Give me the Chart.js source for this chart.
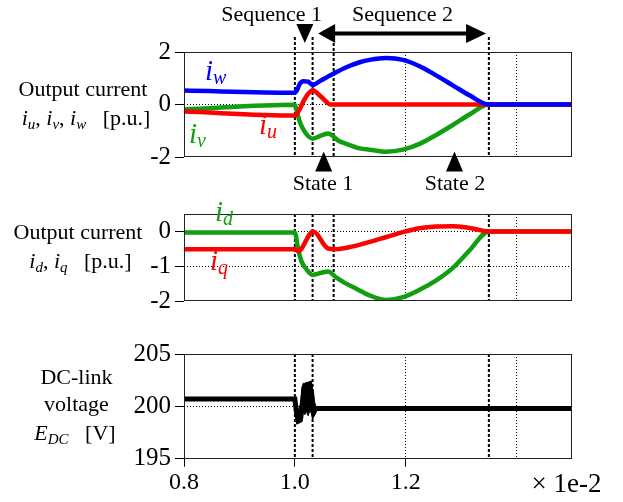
<!DOCTYPE html>
<html>
<head>
<meta charset="utf-8">
<script src="https://cdn.jsdelivr.net/npm/chart.js@4.4.0/dist/chart.umd.min.js"></script>
<style>
  html, body { margin: 0; padding: 0; background: #fff; }
  #wrap { position: relative; width: 623px; height: 502px; overflow: hidden; }
  canvas { position: absolute; left: 0; }
</style>
</head>
<body>
<div id="wrap">
  <canvas id="c1" width="623" height="200" style="top:0px"></canvas>
  <canvas id="c2" width="623" height="125" style="top:195px"></canvas>
  <canvas id="c3" width="623" height="172" style="top:330px"></canvas>
</div>
<script>
const SERIF = '"Liberation Serif", "Times New Roman", serif';

/* x axis: time [x 1e-2 s] */
const xMin = 0.8;
const xMax = 1.5;
const xTicks = [0.8, 1.0, 1.2, 1.4];
const xTickLabels = ['0.8', '1.0', '1.2', ''];
const xDotted = [1.2, 1.4];
const events12 = [1.0, 1.032, 1.07, 1.35];
const events3 = [1.0, 1.032, 1.35];

/* panel 1: output current iu, iv, iw [p.u.] */
const y1Ticks = [-2, 0, 2];
const y1TickLabels = ['-2', '0', '2'];
const iwT = [0.8, 1.0, 1.004, 1.009, 1.015, 1.024, 1.032, 1.045, 1.07, 1.093, 1.117, 1.135, 1.165, 1.195, 1.225, 1.255, 1.285, 1.315, 1.35, 1.5];
const iwV = [0.53, 0.45, 0.55, 0.79, 0.89, 0.87, 0.74, 0.89, 1.18, 1.42, 1.61, 1.7, 1.77, 1.7, 1.46, 1.11, 0.73, 0.35, 0, 0];
const iuT = [0.8, 1.0, 1.004, 1.009, 1.018, 1.032, 1.048, 1.065, 1.5];
const iuV = [-0.27, -0.42, -0.35, -0.17, 0.22, 0.54, 0.28, 0, 0];
const ivT = [0.8, 1.0, 1.004, 1.009, 1.018, 1.032, 1.048, 1.06, 1.078, 1.093, 1.117, 1.135, 1.165, 1.195, 1.225, 1.255, 1.285, 1.315, 1.35, 1.5];
const ivV = [-0.19, -0.01, -0.3, -0.67, -1.05, -1.3, -1.18, -1.1, -1.37, -1.5, -1.67, -1.72, -1.8, -1.72, -1.5, -1.16, -0.78, -0.38, 0, 0];

/* panel 2: output current id, iq [p.u.] */
const y2Ticks = [-2, -1, 0];
const y2TickLabels = ['-2', '-1', '0'];
const idT = [0.8, 1.0, 1.006, 1.012, 1.021, 1.032, 1.048, 1.06, 1.075, 1.09, 1.105, 1.135, 1.165, 1.195, 1.225, 1.255, 1.285, 1.315, 1.35, 1.5];
const idV = [-0.03, -0.03, -0.51, -0.86, -1.09, -1.25, -1.19, -1.15, -1.33, -1.48, -1.6, -1.84, -1.97, -1.89, -1.68, -1.41, -1.05, -0.55, 0, 0];
const iqT = [0.8, 1.0, 1.006, 1.033, 1.06, 1.075, 1.105, 1.135, 1.165, 1.195, 1.225, 1.255, 1.285, 1.315, 1.35, 1.5];
const iqV = [-0.51, -0.51, -0.57, 0, -0.49, -0.51, -0.43, -0.3, -0.16, -0.02, 0.09, 0.14, 0.15, 0.1, 0, 0];

/* panel 3: DC-link voltage [V] */
const y3Ticks = [195, 200, 205];
const y3TickLabels = ['195', '200', '205'];
const edcT = [0.8, 1.0, 1.003, 1.006, 1.01, 1.013, 1.016, 1.03, 1.034, 1.038, 1.5];
const edcV = [200.7, 200.7, 199.4, 198.6, 198.7, 199.8, 201.6, 201.4, 199.4, 199.8, 199.8];
/* switching ripple envelope during sequence 1 */
const envT = [1.0, 1.003, 1.005, 1.008, 1.011, 1.013, 1.015, 1.018, 1.021, 1.024, 1.027, 1.03, 1.032, 1.035, 1.038];
const envHi = [200.9, 200.3, 199.7, 199.8, 200.6, 201.7, 202.2, 202.2, 202.3, 202.3, 202.4, 202.4, 201.6, 200.4, 200.1];
const envLo = [200.4, 199.0, 198.5, 198.4, 198.6, 199.4, 199.6, 199.2, 199.5, 199.1, 199.6, 199.3, 199.0, 199.1, 199.6];

const toXY = (t, v) => t.map((x, i) => ({ x: x, y: v[i] }));

function line(t, v, color, width, smooth) {
  return {
    data: toXY(t, v),
    borderColor: color,
    borderWidth: width,
    pointRadius: 0,
    fill: false,
    cubicInterpolationMode: smooth ? 'monotone' : 'default',
    tension: 0,
  };
}

const near = (a, list) => list.some((b) => Math.abs(a - b) < 1e-6);

function xScale(showTicks) {
  return {
    type: 'linear',
    min: xMin,
    max: xMax,
    afterBuildTicks: (s) => { s.ticks = xTicks.map((v) => ({ value: v })); },
    afterFit: (s) => { s.height = showTicks ? 43.3 : 0; },
    ticks: {
      display: showTicks,
      color: '#000',
      padding: 2,
      maxRotation: 0,
      autoSkip: false,
      font: { family: SERIF, size: 24 },
      callback: (v, i) => xTickLabels[i],
    },
    grid: {
      drawTicks: showTicks,
      tickLength: 8,
      lineWidth: 1,
      color: (c) => (c.tick && near(c.tick.value, xDotted) ? '#000' : 'rgba(0,0,0,0)'),
      tickColor: (c) => (c.tick && c.tick.value < 1.3 ? '#000' : 'rgba(0,0,0,0)'),
    },
    border: { display: false, dash: [1, 2] },
  };
}

function yScale(min, max, ticks, labels, dotted) {
  return {
    type: 'linear',
    min: min,
    max: max,
    afterBuildTicks: (s) => { s.ticks = ticks.map((v) => ({ value: v })); },
    afterFit: (s) => { s.width = 184; },
    ticks: {
      color: '#000',
      padding: 4,
      font: { family: SERIF, size: 25 },
      callback: (v, i) => labels[i],
    },
    grid: {
      drawTicks: true,
      tickLength: 9,
      lineWidth: 1,
      color: (c) => (c.tick && near(c.tick.value, dotted) ? '#000' : 'rgba(0,0,0,0)'),
      tickColor: '#000',
    },
    border: { display: false, dash: [1, 2] },
  };
}

/* text made of runs: italic symbol, subscript, plain text */
function richText(ctx, runs, x, y, align) {
  let w = 0;
  runs.forEach((r) => { ctx.font = r.f; r.w = ctx.measureText(r.t).width; w += r.w; });
  let cx = align === 'center' ? x - w / 2 : x;
  ctx.textBaseline = 'alphabetic';
  ctx.textAlign = 'left';
  runs.forEach((r) => {
    ctx.font = r.f;
    ctx.fillStyle = r.c || '#000';
    ctx.fillText(r.t, cx, y + (r.dy || 0));
    cx += r.w;
  });
}

const F = (size, italic) => (italic ? 'italic ' : '') + size + 'px ' + SERIF;
const sym = (s, sub, color, big) => [
  { t: s, f: F(big ? 29 : 22, true), c: color },
  { t: sub, f: F(big ? 20 : 15, true), c: color, dy: 4 },
];

function text(ctx, s, x, y, size, align) {
  ctx.font = F(size, false);
  ctx.fillStyle = '#000';
  ctx.textAlign = align || 'center';
  ctx.textBaseline = 'alphabetic';
  ctx.fillText(s, x, y);
}

function tri(ctx, pts) {
  ctx.beginPath();
  ctx.moveTo(pts[0][0], pts[0][1]);
  ctx.lineTo(pts[1][0], pts[1][1]);
  ctx.lineTo(pts[2][0], pts[2][1]);
  ctx.closePath();
  ctx.fill();
}

function vDashed(chart, times, yTop) {
  const ctx = chart.ctx;
  const a = chart.chartArea;
  ctx.save();
  ctx.strokeStyle = '#000';
  ctx.lineWidth = 2;
  ctx.setLineDash([3, 2]);
  times.forEach((t, i) => {
    const px = chart.scales.x.getPixelForValue(t);
    const top = yTop ? yTop[i] : a.top;
    ctx.beginPath();
    ctx.moveTo(px, top);
    ctx.lineTo(px, a.bottom);
    ctx.stroke();
  });
  ctx.restore();
}

function frame(chart) {
  const ctx = chart.ctx;
  const a = chart.chartArea;
  ctx.save();
  ctx.strokeStyle = '#222';
  ctx.lineWidth = 1;
  ctx.strokeRect(Math.round(a.left) + 0.5, Math.round(a.top) + 0.5, Math.round(a.width) - 1, Math.round(a.height) - 1);
  ctx.restore();
}

const baseOptions = {
  responsive: false,
  animation: false,
  events: [],
  plugins: { legend: { display: false }, tooltip: { enabled: false } },
};

function makeChart(id, datasets, padding, y, deco) {
  return new Chart(document.getElementById(id), {
    type: 'line',
    data: { datasets: datasets },
    options: Object.assign({}, baseOptions, {
      layout: { padding: padding },
      scales: { x: xScale(id === 'c3'), y: y },
    }),
    plugins: [deco],
  });
}

/* panel 1 (first dataset is drawn on top) */
makeChart('c1', [
  line(iwT, iwV, '#0000ff', 4.5, true),
  line(iuT, iuV, '#ff0000', 4.5, true),
  line(ivT, ivV, '#119f11', 4.5, true),
], { top: 52, bottom: 43, left: 0, right: 51 }, yScale(-2, 2, y1Ticks, y1TickLabels, [0]), {
  id: 'deco1',
  beforeDatasetsDraw(chart) { vDashed(chart, events12, [37, 37, 43, 37]); },
  afterDatasetsDraw(chart) {
    const ctx = chart.ctx;
    const x = chart.scales.x;
    frame(chart);
    ctx.save();
    ctx.fillStyle = '#000';
    text(ctx, 'Sequence 1', 271.7, 21, 22);
    text(ctx, 'Sequence 2', 402.5, 21, 22);
    const s1 = x.getPixelForValue(1.018);
    tri(ctx, [[s1 - 8.5, 24], [s1 + 8.5, 24], [s1, 43]]);
    const l = x.getPixelForValue(1.042);
    const r = x.getPixelForValue(1.345);
    tri(ctx, [[l, 33.5], [l + 17, 24], [l + 17, 43]]);
    tri(ctx, [[r, 33.5], [r - 20, 24], [r - 20, 43]]);
    ctx.strokeStyle = '#000';
    ctx.lineWidth = 4;
    ctx.beginPath();
    ctx.moveTo(l + 15, 33.5);
    ctx.lineTo(r - 18, 33.5);
    ctx.stroke();
    [1.052, 1.288].forEach((t) => {
      const p = x.getPixelForValue(t);
      tri(ctx, [[p, 151.5], [p - 8.5, 171.5], [p + 8.5, 171.5]]);
    });
    text(ctx, 'State 1', 323, 190, 22);
    text(ctx, 'State 2', 455, 190, 22);
    text(ctx, 'Output current', 83, 96, 22);
    richText(ctx, [].concat(
      sym('i', 'u'), [{ t: ', ', f: F(22) }],
      sym('i', 'v'), [{ t: ', ', f: F(22) }],
      sym('i', 'w'), [{ t: '   [p.u.]', f: F(22) }]
    ), 86, 125, 'center');
    richText(ctx, sym('i', 'w', '#0000ff', true), 205, 80, 'left');
    richText(ctx, sym('i', 'v', '#119f11', true), 189, 143, 'left');
    richText(ctx, sym('i', 'u', '#ff0000', true), 259, 134, 'left');
    ctx.restore();
  },
});

/* panel 2 */
makeChart('c2', [
  line(iqT, iqV, '#ff0000', 4.5, true),
  line(idT, idV, '#119f11', 4.5, true),
], { top: 8, bottom: 13, left: 0, right: 51 }, yScale(-2, 0.5, y2Ticks, y2TickLabels, [0, -1]), {
  id: 'deco2',
  beforeDatasetsDraw(chart) { vDashed(chart, events12); },
  afterDatasetsDraw(chart) {
    const ctx = chart.ctx;
    frame(chart);
    ctx.save();
    text(ctx, 'Output current', 78, 239 - 195, 22);
    richText(ctx, [].concat(
      sym('i', 'd'), [{ t: ', ', f: F(22) }],
      sym('i', 'q'), [{ t: '   [p.u.]', f: F(22) }]
    ), 80.5, 268 - 195, 'center');
    richText(ctx, sym('i', 'd', '#119f11', true), 215, 221 - 195, 'left');
    richText(ctx, sym('i', 'q', '#ff0000', true), 210, 270 - 195, 'left');
    ctx.restore();
  },
});

/* panel 3 */
const envUpper = Object.assign(line(envT, envHi, '#000000', 1, false), { fill: '+1', backgroundColor: '#000000' });
const envLower = line(envT, envLo, '#000000', 1, false);
makeChart('c3', [
  envUpper,
  envLower,
  line(edcT, edcV, '#000000', 5, false),
], { top: 24, bottom: 0, left: 0, right: 51 }, yScale(195, 205, y3Ticks, y3TickLabels, [200]), {
  id: 'deco3',
  beforeDatasetsDraw(chart) { vDashed(chart, events3); },
  afterDatasetsDraw(chart) {
    const ctx = chart.ctx;
    frame(chart);
    ctx.save();
    text(ctx, 'DC-link', 76.5, 384 - 330, 22);
    text(ctx, 'voltage', 76.5, 411 - 330, 22);
    richText(ctx, [
      { t: 'E', f: F(22, true) },
      { t: 'DC', f: F(15, true), dy: 4 },
      { t: '   [V]', f: F(22) },
    ], 75, 440 - 330, 'center');
    text(ctx, '\u00d7 1e-2', 531.5, 491.5 - 330, 27, 'left');
    ctx.restore();
  },
});
</script>
</body>
</html>
